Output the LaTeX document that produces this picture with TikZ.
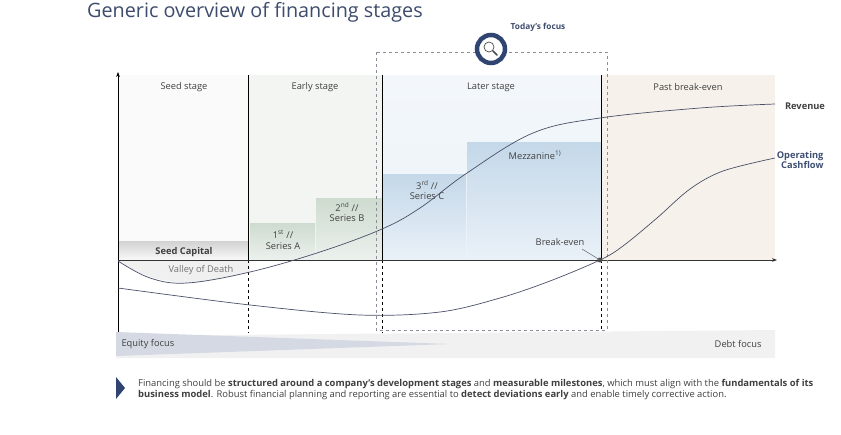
\documentclass[tikz,border=0pt]{standalone}
\usepackage{fontspec}
\setmainfont{Open Sans}
\usepackage{tikz}
\usetikzlibrary{arrows.meta, positioning}

\definecolor{navy}{HTML}{2F4470}
\definecolor{titlegray}{HTML}{3D4C6C}
\definecolor{txtgray}{HTML}{404040}
\definecolor{curvegray}{HTML}{4A5068}
\definecolor{seedbg}{HTML}{FAFAFA}
\definecolor{earlybg}{HTML}{F3F5F3}
\definecolor{latertop}{HTML}{F3F7FB}
\definecolor{laterbot}{HTML}{ECF3F9}
\definecolor{pastbg}{HTML}{F6F2EB}
\definecolor{greentop}{HTML}{CEDBCF}
\definecolor{greenbot}{HTML}{ECF1ED}
\definecolor{bluetop}{HTML}{C4D8E9}
\definecolor{bluebot}{HTML}{EAF1F8}
\definecolor{focusgray}{HTML}{8C8F9B}
\definecolor{equitywedge}{HTML}{D5D9E3}

\begin{document}
\begin{tikzpicture}[x=1pt, y=-1pt,
    stagelabel/.style={font=\fontsize{9.3}{11}\selectfont, text=txtgray},
    barlabel/.style={font=\fontsize{9.3}{10.5}\selectfont, text=txtgray, align=center},
    greenbar/.style={top color=greentop, bottom color=greenbot},
    bluebar/.style={top color=bluetop, bottom color=bluebot},
    stageline/.style={black, line width=0.8pt},
    curve/.style={curvegray, line width=0.7pt}]
    \useasboundingbox (0,0) rectangle (841,434);
    \fill[white] (0,0) rectangle (841,434);

    % Title
    \node[anchor=west, text=titlegray, font=\fontsize{19.8}{22}\selectfont, inner sep=0pt] (title) at (87,12) {Generic overview of financing stages};

    % Stage backgrounds
    \fill[seedbg] (118,75) rectangle (248,260);
    \fill[earlybg] (248,75) rectangle (382,260);
    \fill[top color=latertop, bottom color=laterbot] (382,75) rectangle (601,260);
    \fill[pastbg] (601,75) rectangle (775,260);

    % Financing bars
    \fill[top color=gray!35, bottom color=gray!5] (118,241) rectangle (248,260);
    \fill[greenbar] (250,223) rectangle (315,260);
    \fill[greenbar] (316,198) rectangle (382,260);
    \fill[bluebar] (382,174) rectangle (466,260);
    \fill[bluebar] (467,142) rectangle (601,260);

    % Valley of death
    \fill[gray!12] plot[smooth] coordinates {(118,261) (150,277) (187,283) (220,279) (250,272)} -- (250,260) -- cycle;

    % Stage lines
    \foreach \x in {248, 382, 601} {
        \draw[stageline] (\x,75) -- (\x,260);
        \draw[black, dashed, line width=0.7pt] (\x,260) -- (\x,333);
    }

    % Axes
    \draw[black, line width=0.8pt, -{Stealth[length=5pt]}] (118,335) -- (118,72);
    \draw[black!80, line width=0.8pt, -{Stealth[length=5pt]}] (118,260) -- (777,260);

    % Focus box
    \draw[focusgray, dashed, line width=1pt] (376,52) rectangle (607,330);
    \node[circle, draw=navy, line width=4.5pt, fill=white, minimum size=28pt] (lens) at (491,49) {};
    \draw[black!70, line width=0.7pt] (489,47) circle (5);
    \draw[black!70, line width=1.6pt, line cap=round] (493,51) -- (497,55);
    \node[font=\bfseries\fontsize{8.3}{10}\selectfont, text=titlegray] (focus) at (538,27) {Today's focus};

    % Stage labels
    \node[stagelabel] (seed) at (184,87) {Seed stage};
    \node[stagelabel] (early) at (315,87) {Early stage};
    \node[stagelabel] (later) at (491,87) {Later stage};
    \node[stagelabel] (past) at (688,87) {Past break-even};

    % Bar labels
    \node[barlabel, font=\bfseries\fontsize{9.3}{10.5}\selectfont] (seedcap) at (184,252) {Seed Capital};
    \node[barlabel] (seriesA) at (283,240) {1\textsuperscript{st} //\\Series A};
    \node[barlabel] (seriesB) at (347,212) {2\textsuperscript{nd} //\\Series B};
    \node[barlabel] (seriesC) at (427,190) {3\textsuperscript{rd} //\\Series C};
    \node[barlabel] (mezz) at (535,155) {Mezzanine\textsuperscript{1)}};
    \node[barlabel, text=gray!90!black] (valley) at (201,270) {Valley of Death};

    % Curves
    \draw[curve] plot[smooth, tension=0.6] coordinates {(118,261) (150,278) (187,283) (250,272) (320,252) (382,229) (420,208) (467,173) (533,133) (600,118) (700,108) (775,104)};
    \draw[curve] plot[smooth, tension=0.55] coordinates {(118,288) (250,305) (360,315) (440,312) (500,298) (550,281) (600,260) (623,246) (657,218) (690,189) (723,171) (775,158)};
    \node[font=\bfseries\fontsize{9.3}{10.5}\selectfont, text=txtgray] (revenue) at (805,106) {Revenue};
    \node[font=\bfseries\fontsize{9.3}{10.5}\selectfont, text=navy!80!gray, align=right, anchor=east] (cashflow) at (827,160) {Operating\\Cashflow};

    % Break-even
    \coordinate (be) at (600,260);
    \fill[black!70] (be) circle (2.5);
    \node[stagelabel] (belabel) at (560,242) {Break-even};
    \draw[gray!80!black, line width=0.5pt, -{Stealth[length=3pt]}] (582,249) -- (be);

    % Equity / debt focus
    \fill[gray!11] (116,336) -- (775,330) -- (775,358) -- (116,358) -- cycle;
    \fill[equitywedge] (116,332) -- (450,344) -- (116,356) -- cycle;
    \node[stagelabel, anchor=west] (equity) at (118,344) {Equity focus};
    \node[stagelabel, anchor=east] (debt) at (765,344) {Debt focus};

    % Footer
    \fill[navy] (116,377) -- (125,388) -- (116,399) -- cycle;
    \node[anchor=north west, align=left, inner sep=0pt, text=txtgray, font=\fontsize{9.4}{11}\selectfont] (note) at (138,379) {Financing should be \textbf{structured around a company's development stages} and \textbf{measurable milestones}, which must align with the \textbf{fundamentals of its}\\\textbf{business model}. Robust financial planning and reporting are essential to \textbf{detect deviations early} and enable timely corrective action.};
\end{tikzpicture}
\end{document}
